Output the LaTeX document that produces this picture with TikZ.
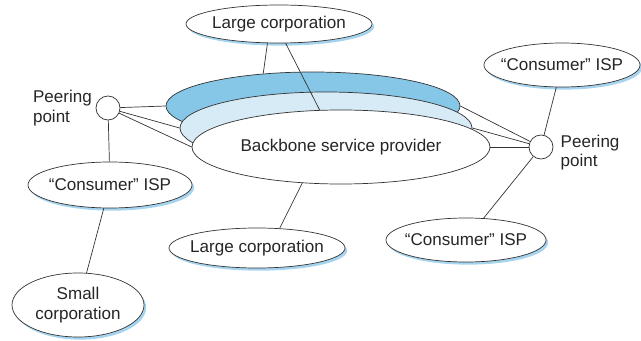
\documentclass[tikz,border=0pt]{standalone}
\usepackage{fontspec}
\setmainfont{Liberation Sans}
\usetikzlibrary{shapes.geometric,shadows}
\definecolor{darkband}{HTML}{86C7E8}
\definecolor{lightband}{HTML}{D6EBF6}
\definecolor{shadowblue}{HTML}{A6D4EE}
\begin{document}
\begin{tikzpicture}[x=0.2cm,y=-0.2cm,font=\fontsize{9.7}{11}\selectfont,text=black!85]
        \tikzstyle{site}=[ellipse,draw=black!80,fill=white,thin,inner sep=0pt,
          drop shadow={shadow xshift=1.2pt,shadow yshift=-1.5pt,fill=shadowblue,opacity=1}]
        \tikzstyle{band}=[ellipse,draw=black!80,thin,inner sep=0pt]
        \tikzstyle{peer}=[circle,draw=black!80,fill=white,thin,minimum size=4.8mm,inner sep=0pt]
        \tikzstyle{edge}=[draw=black!80,thin]
        \useasboundingbox (0,0) rectangle (64.1,34.1);
       \begin{scope}
         % backbone, back to front
         \node [band,fill=darkband,minimum width=5.88cm,minimum height=1.36cm] (bbDark) at (31.3,10.6) {};
         \node [band,fill=lightband,minimum width=5.84cm,minimum height=1.44cm] (bbLight) at (32.6,12.8) {};
         \node [band,fill=white,minimum width=5.96cm,minimum height=1.48cm] (bbWhite) at (34.1,14.7) {Backbone service provider};
         \node [site,minimum width=3.72cm,minimum height=0.76cm,label=center:Large corporation] (lcTop) at (27.9,2.4) {};
         \node [site,minimum width=3.52cm,minimum height=0.80cm,label=center:Large corporation] (lcBot) at (25.7,24.8) {};
         \node [site,minimum width=3.28cm,minimum height=0.92cm,label=center:“Consumer” ISP] (ispL) at (11.0,18.5) {};
         \node [site,minimum width=2.64cm,minimum height=1.28cm,label={[align=center]center:Small\\corporation}] (small) at (7.8,30.5) {};
         \node [site,minimum width=3.12cm,minimum height=0.88cm,label=center:“Consumer” ISP] (ispTR) at (56.2,6.5) {};
         \node [site,minimum width=3.20cm,minimum height=0.88cm,label=center:“Consumer” ISP] (ispBR) at (46.6,24.0) {};
         \node [peer,label={[align=left,inner sep=0pt,label distance=2pt]left:Peering\\point}] (pL) at (10.8,10.8) {};
         \node [peer,label={[align=left,inner sep=0pt,label distance=4pt,yshift=-3pt]right:Peering\\point}] (pR) at (54.1,14.7) {};
         \path[edge] (lcTop.239) edge (bbDark.147);
         \path[edge] (lcTop.289) edge (bbWhite.120);
         \path[edge] (lcBot.41) edge (bbWhite.223);
         \path[edge] (pL) edge (bbDark.west) (pL) edge (bbLight.west) (pL) edge (bbWhite.west);
         \path[edge] (pR) edge (bbDark.east) (pR) edge (bbLight.east) (pR) edge (bbWhite.east);
         \path[edge] (pL) edge (ispL);
         \path[edge] (ispL) edge (small);
         \path[edge] (ispTR) edge (pR);
         \path[edge] (ispBR) edge (pR);
        \end{scope}
      \end{tikzpicture}
\end{document}
